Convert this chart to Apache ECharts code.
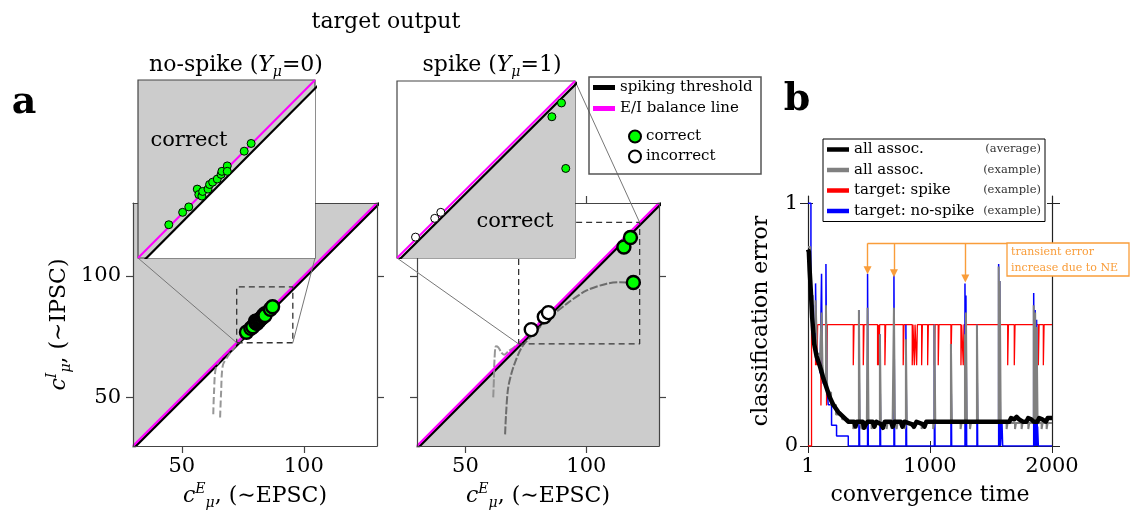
<!DOCTYPE html>
<html>
<head>
<meta charset="utf-8">
<script src="https://cdn.jsdelivr.net/npm/echarts@6/dist/echarts.min.js"></script>
<style>
  html, body { margin: 0; padding: 0; background: #fff; }
  #chart { width: 1130px; height: 517px; }
</style>
</head>
<body>
<div id="chart"></div>
<script>
// ---------- panel a data ----------
const axisRange = [30, 130];
const axisTicks = [50, 100];
const thresholdOffset = 1.1;          // spiking threshold sits this far below the E/I balance line
const noSpikeZoom = [72.5, 95.5];     // dashed box / inset range
const spikeZoom = [72, 122];

const noSpikeCorrect = [
  [76.5, 76.8], [78.3, 78.4], [79.1, 79.1], [80.2, 81.4], [80.4, 80.7], [80.8, 80.5],
  [80.9, 81.1], [81.6, 81.4], [81.8, 82.0], [82.2, 82.3], [82.8, 82.7], [83.3, 83.3],
  [83.4, 83.7], [84.1, 84.4], [84.1, 83.7], [86.3, 86.3], [87.2, 87.3]
];
const spikeCorrect = [[115.5, 111.9], [118.2, 115.8], [119.4, 97.3]];
const spikeIncorrect = [[77.2, 77.9], [82.6, 83.2], [84.3, 84.9]];

const noSpikePathA = [[62.9, 43.1], [63.2, 52], [64.0, 62.4], [66.5, 66.5], [71.1, 70.6], [75, 74.5]];
const noSpikePathB = [[65.7, 41.7], [66.1, 52], [66.8, 63.1], [68.8, 66.8], [72, 71.2]];
const spikePathA = [[61.5, 50], [61.8, 58], [62.0, 65], [62.6, 71], [63.6, 70.6], [65, 68.3],
  [66, 67.6], [68, 69.2], [70, 70.5], [74, 74], [78, 78.3], [83.6, 84.2]];
const spikePathB = [[66.4, 34.8], [66.8, 43.1], [67.7, 54.1], [69.8, 62.4], [73.3, 70.6], [78.1, 76.1],
  [83.6, 81.7], [91.8, 88.5], [100.1, 94], [108.4, 96.8], [113.9, 97.4], [119.4, 97.2]];

// ---------- panel b data ----------
const timeTicks = [1, 1000, 2000];
const errorTicks = [0, 1];
const legendLabels = ['all assoc.', 'all assoc.', 'target: spike', 'target: no-spike'];
const legendNotes = ['(average)', '(example)', '(example)', '(example)'];

const avgError = [
  [1, 0.81], [8, 0.8], [15, 0.72], [24, 0.64], [35, 0.53], [52, 0.42], [71, 0.37], [98, 0.33],
  [126, 0.28], [153, 0.24], [180, 0.2], [208, 0.17], [249, 0.14], [290, 0.12], [331, 0.1],
  [380, 0.1], [390, 0.08], [400, 0.1], [450, 0.1], [460, 0.075], [475, 0.09], [490, 0.1],
  [530, 0.1], [545, 0.08], [560, 0.1], [600, 0.09], [615, 0.075], [630, 0.1], [680, 0.1],
  [695, 0.08], [710, 0.1], [760, 0.1], [775, 0.08], [790, 0.1], [850, 0.09], [870, 0.08],
  [890, 0.1], [940, 0.09], [955, 0.08], [970, 0.1], [1650, 0.1], [1665, 0.115], [1690, 0.11],
  [1710, 0.12], [1730, 0.11], [1760, 0.1], [1790, 0.1], [1805, 0.115], [1830, 0.11], [1850, 0.1],
  [1880, 0.1], [1895, 0.115], [1920, 0.11], [1950, 0.1], [1965, 0.115], [2000, 0.115]
];
const exampleLevels = [[1, 0.82], [20, 0.62], [40, 0.47], [70, 0.38], [100, 0.33], [130, 0.28],
  [160, 0.22], [190, 0.17], [230, 0.13], [280, 0.11], [330, 0.095]];
const examplePeaks = [[63, 0.6], [112, 0.55], [148, 0.58], [418, 0.56], [489, 0.57], [590, 0.46],
  [705, 0.57], [803, 0.44], [1036, 0.5], [1172, 0.42], [1287, 0.46], [1295, 0.55], [1385, 0.5],
  [1563, 0.74], [1572, 0.68], [1850, 0.58], [1862, 0.55], [1874, 0.49]];
const exampleDips = [[372, 0.07], [440, 0.07], [475, 0.07], [522, 0.07], [645, 0.07], [686, 0.07],
  [727, 0.07], [795, 0.07], [863, 0.07], [932, 0.07], [1027, 0.07], [1251, 0.07], [1328, 0.07],
  [1628, 0.07], [1697, 0.07], [1751, 0.07], [1806, 0.07], [1915, 0.07], [1956, 0.07]];
const spikeLevels = [[1, 0], [30, 0.5]];
const spikeDips = [[63, 0.333], [74, 0.333], [107, 0.167], [153, 0.167], [372, 0.333], [454, 0.333],
  [571, 0.333], [582, 0.333], [631, 0.333], [781, 0.333], [855, 0.333], [872, 0.333], [891, 0.333],
  [932, 0.333], [981, 0.333], [1036, 0.333], [1068, 0.333], [1172, 0.333], [1254, 0.333],
  [1273, 0.333], [1637, 0.333], [1691, 0.333], [1888, 0.333], [1929, 0.333]];
const noSpikeLevels = [[1, 1], [25, 0.58], [45, 0.42], [70, 0.35], [100, 0.3], [126, 0.258],
  [167, 0.17], [194, 0.086], [235, 0.041], [331, 0]];
const noSpikePeaks = [[63, 0.67], [112, 0.71], [148, 0.75], [418, 0.56], [489, 0.71], [590, 0.46],
  [705, 0.71], [803, 0.5], [1036, 0.5], [1172, 0.42], [1287, 0.67], [1295, 0.62], [1385, 0.5],
  [1563, 0.75], [1572, 0.68], [1590, 0.1], [1850, 0.63], [1862, 0.56], [1874, 0.52], [1882, 0.08]];
const neArrows = [[489, 0.724], [705, 0.712], [1290, 0.69]];
const neLineTop = 0.835;
const neBoxStart = 1631;

// ---------- helpers ----------
const font = 'DejaVu Serif';
const frame = '#444';
const shade = '#cccccc';

// piecewise constant trace with short pulses (values come from the arrays above)
function pulseTrace(levels, pulses, w) {
  const evts = levels.slice(1).map(([x, y]) => ({ x, y, lvl: true }))
    .concat(pulses.map(([x, y]) => ({ x, y, lvl: false })))
    .sort((a, b) => a.x - b.x);
  let cur = levels[0][1];
  const pts = [[levels[0][0], cur]];
  evts.forEach(e => {
    if (e.lvl) { pts.push([e.x, cur]); cur = e.y; pts.push([e.x, cur]); }
    else pts.push([e.x, cur], [e.x, e.y], [e.x + w, e.y], [e.x + w, cur]);
  });
  pts.push([timeTicks[timeTicks.length - 1], cur]);
  return pts;
}

function richMath(size) {
  return {
    n: { fontFamily: font, fontSize: size, color: '#000', lineHeight: size + 6 },
    i: { fontFamily: font, fontSize: size, color: '#000', fontStyle: 'italic', lineHeight: size + 6 },
    sup: { fontFamily: font, fontSize: Math.round(size * 0.62), color: '#000', fontStyle: 'italic', verticalAlign: 'top', lineHeight: Math.round(size * 0.62) },
    sub: { fontFamily: font, fontSize: Math.round(size * 0.62), color: '#000', fontStyle: 'italic', verticalAlign: 'bottom', lineHeight: Math.round(size * 0.62) }
  };
}

const tickLabel = { fontFamily: font, fontSize: 21, color: '#000', formatter: v => String(v) };

function frameAxis(gridIndex, position, extra) {
  return Object.assign({
    gridIndex, type: 'value', position, min: axisRange[0], max: axisRange[1],
    axisLine: { show: true, onZero: false, lineStyle: { color: frame, width: 1.2 } },
    axisTick: { show: true, customValues: axisTicks, length: 7, lineStyle: { color: frame, width: 1.2 } },
    axisLabel: { show: false },
    splitLine: { show: false },
    z: 5
  }, extra);
}

function insetAxis(gridIndex, range) {
  return {
    gridIndex, type: 'value', min: range[0], max: range[1],
    axisLine: { show: false }, axisTick: { show: false }, axisLabel: { show: false }, splitLine: { show: false }
  };
}

// extra axis used only for the inner half of panel b's crossing ticks
function innerTicks(position, values, gridIndex, range) {
  return { gridIndex, type: 'value', position, min: range[0], max: range[1],
    axisLine: { show: false },
    axisTick: { show: true, inside: true, customValues: values, length: 5, lineStyle: { color: '#222' } },
    axisLabel: { show: false }, splitLine: { show: false } };
}

// region below the threshold: white for no-spike (grid itself is shaded), shaded for spike
function regionSeries(xi, yi, range, shadedAbove, z, lw) {
  const [lo, hi] = range;
  const thr = [[lo, lo - thresholdOffset], [hi + thresholdOffset, hi]];
  return [
    { type: 'line', xAxisIndex: xi, yAxisIndex: yi, data: thr, showSymbol: false, z,
      lineStyle: { width: 0 }, areaStyle: { color: shadedAbove ? '#ffffff' : shade, opacity: 1, origin: 'start' },
      silent: true },
    { name: 'spiking threshold', type: 'line', xAxisIndex: xi, yAxisIndex: yi, data: thr, showSymbol: false,
      z: z + 1, itemStyle: { color: '#000' }, lineStyle: { color: '#000', width: lw[0] } },
    { name: 'E/I balance line', type: 'line', xAxisIndex: xi, yAxisIndex: yi, data: [[lo, lo], [hi, hi]],
      showSymbol: false, z: z + 2, itemStyle: { color: '#ff00ff' }, lineStyle: { color: '#ff00ff', width: lw[1] } }
  ];
}

function boxSeries(xi, yi, range) {
  const [lo, hi] = range;
  return { type: 'line', xAxisIndex: xi, yAxisIndex: yi, data: [[lo, lo], [hi, lo], [hi, hi], [lo, hi], [lo, lo]],
    showSymbol: false, z: 4, silent: true,
    lineStyle: { color: '#333', width: 1.3, type: [6, 4] } };
}

function pathSeries(xi, yi, data, color, dash) {
  return { type: 'line', xAxisIndex: xi, yAxisIndex: yi, data, showSymbol: false, smooth: 0.3, z: 3,
    silent: true, lineStyle: { color, width: 2, type: dash } };
}

function pointSeries(name, xi, yi, data, fill, size, bw, z) {
  return { name, type: 'scatter', xAxisIndex: xi, yAxisIndex: yi, data, symbolSize: size, z,
    itemStyle: { color: fill, borderColor: '#000', borderWidth: bw, opacity: 1 } };
}

const bNames = legendLabels.map((l, i) => l + ' ' + legendNotes[i]);
const errRange = [0, 1.03];

const option = {
  animation: false,
  backgroundColor: '#fff',
  grid: [
    { left: 133, top: 203, width: 244, height: 243, show: true, backgroundColor: shade, borderWidth: 0 },
    { left: 417, top: 203, width: 242, height: 243 },
    { left: 138, top: 80, width: 177, height: 178, show: true, backgroundColor: shade, borderColor: frame, borderWidth: 1.2, z: 10 },
    { left: 397, top: 81, width: 178, height: 177, show: true, backgroundColor: '#fff', borderColor: frame, borderWidth: 1.2, z: 10 },
    { left: 808, top: 196, width: 244, height: 250 }
  ],
  xAxis: [
    frameAxis(0, 'bottom', { axisLabel: Object.assign({ show: true, customValues: axisTicks, margin: 10 }, tickLabel),
      name: '{i|c}{sup|E}{sub|μ}{n|, (∼EPSC)}', nameLocation: 'middle', nameGap: 36, nameTextStyle: { rich: richMath(22) } }),
    frameAxis(0, 'top'),
    frameAxis(1, 'bottom', { axisLabel: Object.assign({ show: true, customValues: axisTicks, margin: 10 }, tickLabel),
      name: '{i|c}{sup|E}{sub|μ}{n|, (∼EPSC)}', nameLocation: 'middle', nameGap: 36, nameTextStyle: { rich: richMath(22) } }),
    frameAxis(1, 'top'),
    insetAxis(2, noSpikeZoom),
    insetAxis(3, spikeZoom),
    { gridIndex: 4, type: 'value', min: timeTicks[0], max: timeTicks[2],
      axisLine: { show: true, onZero: false, lineStyle: { color: '#222', width: 1.2 } },
      axisTick: { show: true, customValues: timeTicks, length: 7, lineStyle: { color: '#222' } },
      axisLabel: Object.assign({ customValues: timeTicks, margin: 10 }, tickLabel),
      splitLine: { show: false },
      name: 'convergence time', nameLocation: 'middle', nameGap: 38,
      nameTextStyle: { fontFamily: font, fontSize: 22, color: '#000' } },
    innerTicks('bottom', timeTicks, 4, [timeTicks[0], timeTicks[2]])
  ],
  yAxis: [
    frameAxis(0, 'left', { axisLabel: Object.assign({ show: true, customValues: axisTicks, margin: 12 }, tickLabel),
      name: '{i|c}{sup|I}{sub|μ}{n|, (∼IPSC)}', nameLocation: 'middle', nameGap: 60, nameRotate: 90,
      nameTextStyle: { rich: richMath(22) } }),
    frameAxis(0, 'right'),
    frameAxis(1, 'left'),
    frameAxis(1, 'right'),
    insetAxis(2, noSpikeZoom),
    insetAxis(3, spikeZoom),
    { gridIndex: 4, type: 'value', min: errRange[0], max: errRange[1], position: 'left',
      axisLine: { show: true, lineStyle: { color: '#222', width: 1.2 } },
      axisTick: { show: true, customValues: errorTicks, length: 8, lineStyle: { color: '#222' } },
      axisLabel: Object.assign({ customValues: errorTicks, margin: 10 }, tickLabel),
      splitLine: { show: false },
      name: 'classification error', nameLocation: 'middle', nameGap: 36, nameRotate: 90,
      nameTextStyle: { fontFamily: font, fontSize: 22, color: '#000' } },
    { gridIndex: 4, type: 'value', min: errRange[0], max: errRange[1], position: 'right',
      axisLine: { show: true, lineStyle: { color: '#222', width: 1.2 } },
      axisTick: { show: true, customValues: errorTicks, length: 8, lineStyle: { color: '#222' } },
      axisLabel: { show: false }, splitLine: { show: false } },
    innerTicks('left', errorTicks, 4, errRange),
    innerTicks('right', errorTicks, 4, errRange)
  ],
  legend: [
    { data: ['spiking threshold', 'E/I balance line'], left: 593, top: 80, orient: 'vertical',
      icon: 'rect', itemWidth: 22, itemHeight: 5, itemGap: 6, padding: 0, selectedMode: false,
      textStyle: { fontFamily: font, fontSize: 15, color: '#000' } },
    { data: ['correct', 'incorrect'], left: 628, top: 129, orient: 'vertical',
      icon: 'circle', itemWidth: 12, itemHeight: 12, itemGap: 5, padding: 0, selectedMode: false,
      textStyle: { fontFamily: font, fontSize: 15, color: '#000' } },
    { data: bNames, left: 823, top: 139, orient: 'vertical', icon: 'rect', itemWidth: 22, itemHeight: 4.5,
      itemGap: 5.5, padding: [3, 4, 3, 4], borderColor: '#000', borderWidth: 1, backgroundColor: '#fff',
      selectedMode: false, z: 20,
      formatter: name => { const i = bNames.indexOf(name); return '{a|' + legendLabels[i] + '}{b|' + legendNotes[i] + '}'; },
      textStyle: { fontFamily: font, fontSize: 15, color: '#000',
        rich: { a: { fontFamily: font, fontSize: 15, color: '#000', width: 130 },
                b: { fontFamily: font, fontSize: 11.5, color: '#333', width: 57, align: 'right' } } } }
  ],
  series: [
    // no-spike main
    ...regionSeries(0, 0, axisRange, true, 2, [2.6, 2.4]),
    pathSeries(0, 0, noSpikePathA, 'rgba(140,140,140,0.9)', [7, 3]),
    pathSeries(0, 0, noSpikePathB, 'rgba(140,140,140,0.9)', [7, 3]),
    boxSeries(0, 0, noSpikeZoom),
    pointSeries('correct', 0, 0, noSpikeCorrect, '#00ff00', 13, 2.4, 6),
    // spike main
    ...regionSeries(2, 2, axisRange, false, 2, [2.6, 2.4]),
    pathSeries(2, 2, spikePathA, 'rgba(140,140,140,0.9)', [8, 2]),
    pathSeries(2, 2, spikePathB, 'rgba(90,90,90,0.85)', [8, 2]),
    boxSeries(2, 2, spikeZoom),
    pointSeries('correct', 2, 2, spikeCorrect, '#00ff00', 13, 2.4, 6),
    pointSeries('incorrect', 2, 2, spikeIncorrect, '#ffffff', 13, 2.4, 6),
    // insets
    ...regionSeries(4, 4, noSpikeZoom, true, 11, [2.2, 2]),
    pointSeries('correct', 4, 4, noSpikeCorrect, '#00ff00', 8, 1, 14),
    ...regionSeries(5, 5, spikeZoom, false, 11, [2.2, 2]),
    pointSeries('correct', 5, 5, spikeCorrect, '#00ff00', 8, 1, 14),
    pointSeries('incorrect', 5, 5, spikeIncorrect, '#ffffff', 8, 1, 14),
    // panel b
    { name: bNames[2], type: 'line', xAxisIndex: 6, yAxisIndex: 6, data: pulseTrace(spikeLevels, spikeDips, 6),
      showSymbol: false, z: 2, itemStyle: { color: '#ff0000' }, lineStyle: { color: '#ff0000', width: 1.3 } },
    { name: bNames[3], type: 'line', xAxisIndex: 6, yAxisIndex: 6, data: pulseTrace(noSpikeLevels, noSpikePeaks, 6),
      showSymbol: false, z: 3, itemStyle: { color: '#0000ff' }, lineStyle: { color: '#0000ff', width: 1.5 } },
    { name: bNames[1], type: 'line', xAxisIndex: 6, yAxisIndex: 6,
      data: pulseTrace(exampleLevels, examplePeaks.concat(exampleDips), 8),
      showSymbol: false, z: 4, itemStyle: { color: '#808080' }, lineStyle: { color: '#808080', width: 2 } },
    { name: bNames[0], type: 'line', xAxisIndex: 6, yAxisIndex: 6, data: avgError,
      showSymbol: false, z: 5, itemStyle: { color: '#000' }, lineStyle: { color: '#000', width: 4.5, join: 'round' },
      markLine: {
        silent: true, symbol: ['none', 'triangle'], symbolSize: 8,
        label: { show: false },
        lineStyle: { color: '#f99d3a', width: 1.4, type: 'solid' },
        data: neArrows.map(([x, y]) => [{ coord: [x, neLineTop] }, { coord: [x, y] }]).concat([
          [{ coord: [neArrows[0][0], neLineTop], symbol: 'none' }, { coord: [neBoxStart, neLineTop], symbol: 'none' }]
        ])
      } }
  ]
};

const chart = echarts.init(document.getElementById('chart'));
chart.setOption(option);

// connectors from inset corners to the dashed boxes
const px = (g, v) => chart.convertToPixel({ gridIndex: g }, v);
const [nlo, nhi] = noSpikeZoom;
const [slo, shi] = spikeZoom;
const links = [
  [px(2, [nlo, nlo]), px(0, [nlo, nlo])],
  [px(2, [nhi, nlo]), px(0, [nhi, nlo])],
  [px(3, [slo, slo]), px(1, [slo, slo])],
  [px(3, [shi, shi]), px(1, [shi, shi])]
];

const titleRich = richMath(22);
chart.setOption({
  graphic: [
    ...links.map(([a, b]) => ({ type: 'line', z: 7, silent: true,
      shape: { x1: a[0], y1: a[1], x2: b[0], y2: b[1] }, style: { stroke: '#777', lineWidth: 1 } })),
    { type: 'text', x: 386, y: 22, z: 30, style: { text: 'target output', fontFamily: font, fontSize: 22, fill: '#000', align: 'center', verticalAlign: 'middle' } },
    { type: 'text', x: 236, y: 65, z: 30, style: { text: '{n|no-spike (}{i|Y}{sub|μ}{n|=0)}', rich: titleRich, align: 'center', verticalAlign: 'middle' } },
    { type: 'text', x: 492, y: 65, z: 30, style: { text: '{n|spike (}{i|Y}{sub|μ}{n|=1)}', rich: titleRich, align: 'center', verticalAlign: 'middle' } },
    { type: 'text', x: 24, y: 103, z: 30, style: { text: 'a', fontFamily: font, fontWeight: 'bold', fontSize: 38, fill: '#000', align: 'center', verticalAlign: 'middle' } },
    { type: 'text', x: 797, y: 100, z: 30, style: { text: 'b', fontFamily: font, fontWeight: 'bold', fontSize: 38, fill: '#000', align: 'center', verticalAlign: 'middle' } },
    { type: 'text', x: 189, y: 141, z: 30, style: { text: 'correct', fontFamily: font, fontSize: 21, fill: '#000', align: 'center', verticalAlign: 'middle' } },
    { type: 'text', x: 515, y: 222, z: 30, style: { text: 'correct', fontFamily: font, fontSize: 21, fill: '#000', align: 'center', verticalAlign: 'middle' } },
    { type: 'rect', z: 19, silent: true, shape: { x: 589, y: 77, width: 172, height: 97 }, style: { fill: 'none', stroke: '#555', lineWidth: 1.5 } },
    { type: 'rect', z: 25, silent: true, shape: { x: 1007, y: 243, width: 122, height: 33 }, style: { fill: '#fff', stroke: '#f99d3a', lineWidth: 1.3 } },
    { type: 'text', x: 1011, y: 252, z: 26, style: { text: 'transient error', fontFamily: font, fontSize: 11, fill: '#f99d3a', align: 'left', verticalAlign: 'middle' } },
    { type: 'text', x: 1011, y: 268, z: 26, style: { text: 'increase due to NE', fontFamily: font, fontSize: 11, fill: '#f99d3a', align: 'left', verticalAlign: 'middle' } }
  ]
});
</script>
</body>
</html>
